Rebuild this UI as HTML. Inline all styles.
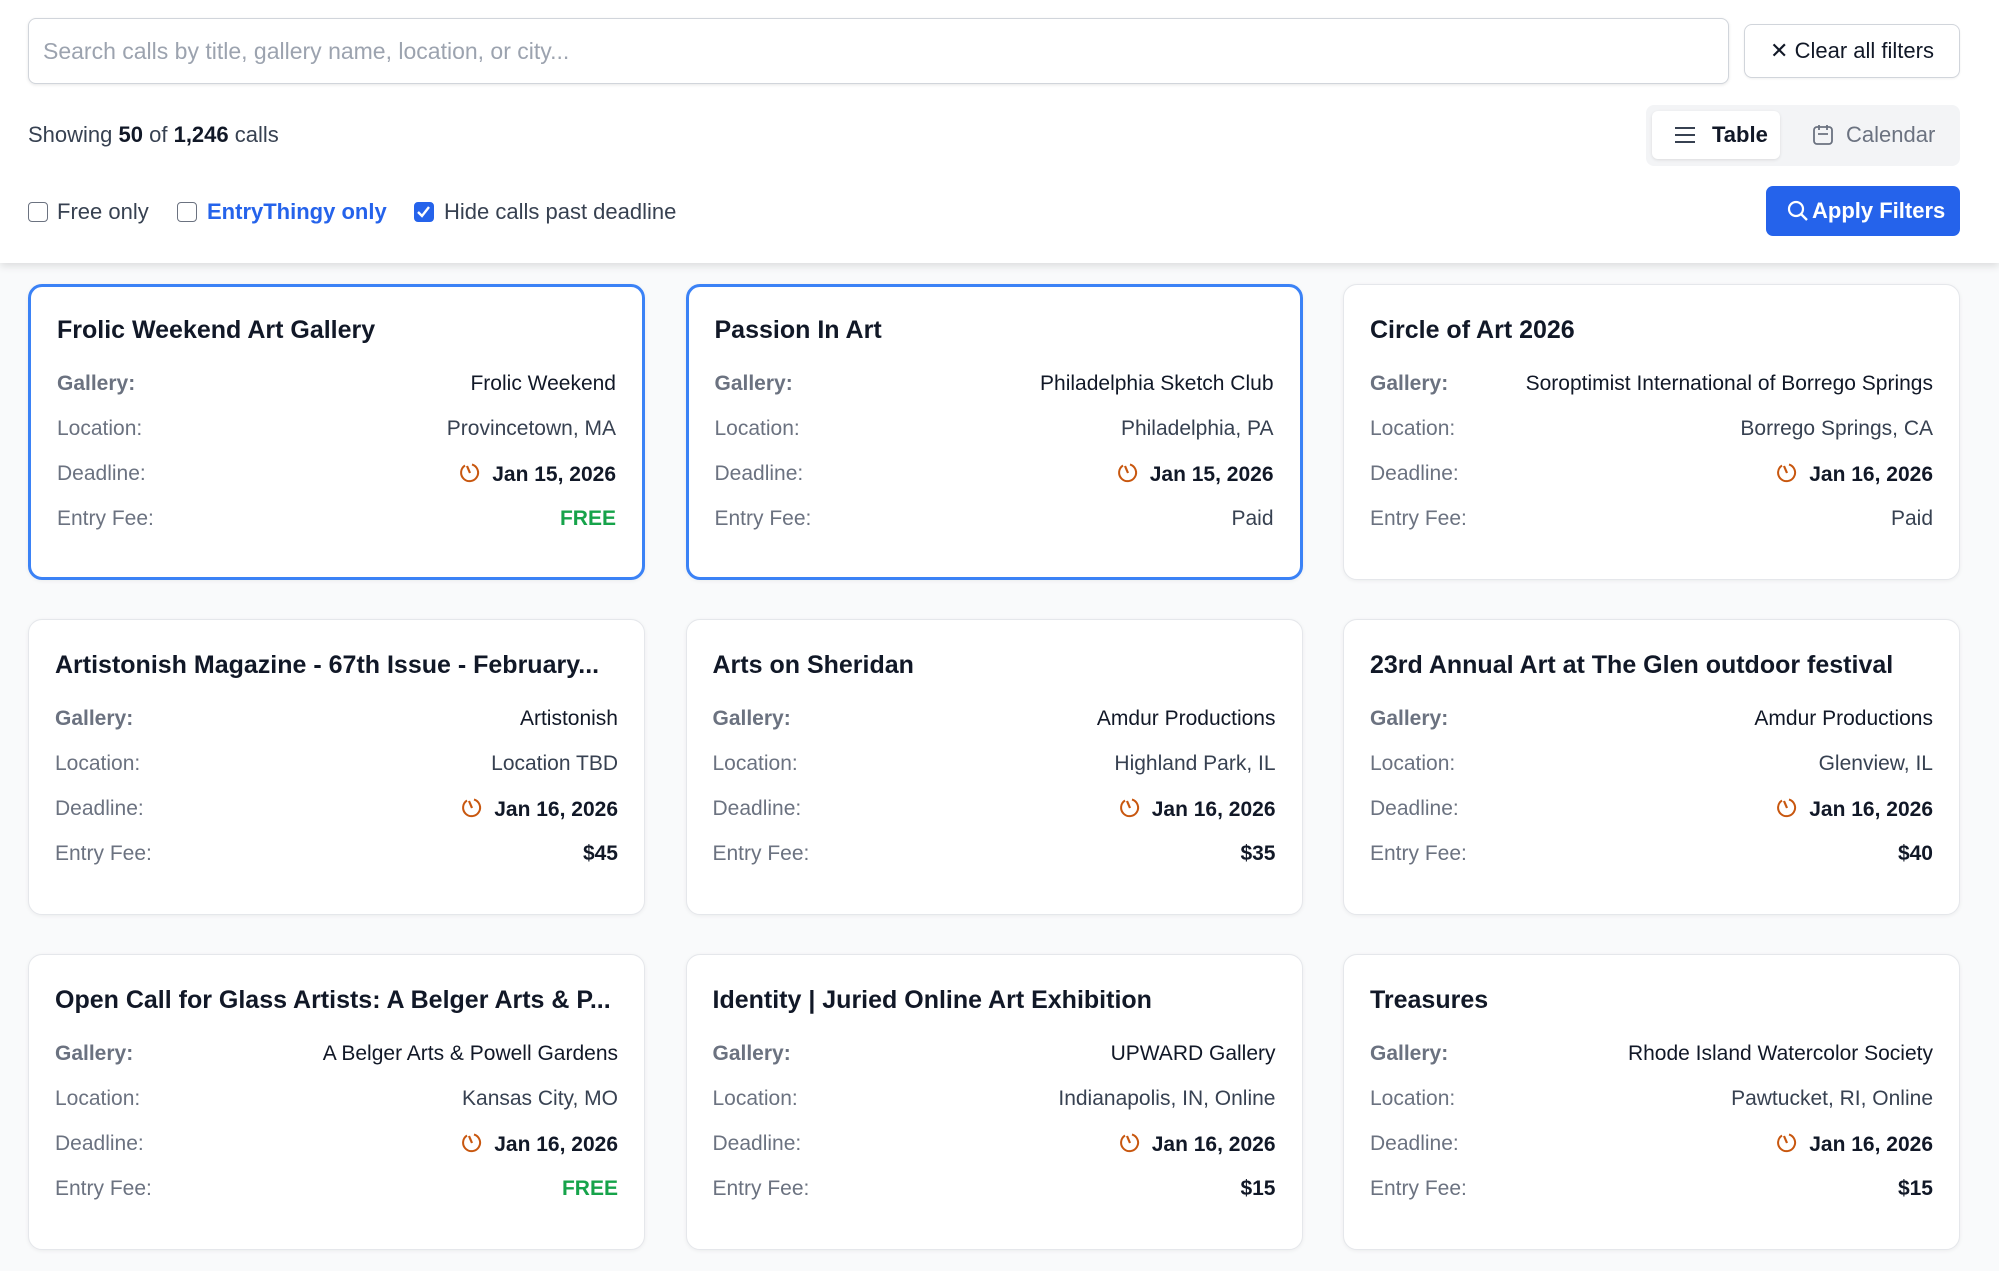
<!DOCTYPE html>
<html><head><meta charset="utf-8"><style>
*{box-sizing:border-box;margin:0;padding:0}
body{width:1999px;height:1271px;background:#f9fafb;font-family:"Liberation Sans",sans-serif;color:#111827;position:relative;overflow:hidden}
.header{position:absolute;left:0;top:0;width:1999px;height:263px;background:#fff;box-shadow:0 3px 8px rgba(0,0,0,0.12)}
.search{position:absolute;left:28px;top:18px;width:1701px;height:66px;border:1px solid #d1d5db;border-radius:8px;background:#fff;box-shadow:0 1px 3px rgba(0,0,0,0.1);font-size:23px;color:#9ca3af;padding-left:14px;line-height:64px}
.clear{position:absolute;left:1744px;top:24px;width:216px;height:54px;border:1px solid #d1d5db;border-radius:8px;background:#fff;font-size:22px;line-height:52px;text-align:center;color:#111827;box-shadow:0 1px 2px rgba(0,0,0,0.06)}
.showing{position:absolute;left:28px;top:122px;font-size:22px;color:#374151}
.showing b{color:#111827}
.toggle{position:absolute;left:1646px;top:105px;width:314px;height:61px;background:#f3f4f6;border-radius:8px}
.tbtn{position:absolute;left:6px;top:6px;width:128px;height:48px;background:#fff;border-radius:6px;box-shadow:0 1px 3px rgba(0,0,0,0.1);font-size:22px;font-weight:bold;line-height:48px;padding-left:60px}
.cbtn{position:absolute;left:160px;top:6px;height:48px;font-size:22px;color:#6b7280;line-height:48px;padding-left:40px}
.chk{position:absolute;top:202px;width:20px;height:20px;border:1.5px solid #6b7280;border-radius:4px;background:#fff}
.chk.on{background:#2563eb;border-color:#2563eb}
.clabel{position:absolute;top:199px;font-size:22px;color:#374151}
.apply{position:absolute;left:1766px;top:186px;width:194px;height:50px;background:#2563eb;border-radius:7px;color:#fff;font-size:22px;font-weight:bold;line-height:50px;padding-left:46px}
.card{position:absolute;width:617px;height:296px;background:#fff;border:1px solid #e5e7eb;border-radius:14px;box-shadow:0 1px 4px rgba(0,0,0,0.06)}
.card.sel{border:3px solid #3b82f6}
.title{position:absolute;left:26px;top:31px;font-size:25px;font-weight:bold;color:#111827;white-space:nowrap}
.row{position:absolute;left:26px;right:26px;height:28px;font-size:21px;display:flex;justify-content:space-between;align-items:center}
.lab{color:#6b7280}
.lab.b{font-weight:bold}
.val{color:#374151;white-space:nowrap}
.val.b{font-weight:bold;color:#111827}
.free{color:#16a34a;font-weight:bold}
.clock{display:inline-block;vertical-align:-4px;margin-right:10px}
</style></head><body>
<div class="header">
  <div class="search">Search calls by title, gallery name, location, or city...</div>
  <div class="clear">✕ Clear all filters</div>
  <div class="showing">Showing <b>50</b> of <b>1,246</b> calls</div>
  <div class="toggle">
    <div class="tbtn"><svg style="position:absolute;left:22px;top:14px" width="22" height="20"><path d="M1 3h20M1 10h20M1 17h20" stroke="#374151" stroke-width="2"/></svg>Table</div>
    <div class="cbtn"><svg style="position:absolute;left:6px;top:13px" width="22" height="22"><rect x="2" y="3" width="18" height="17" rx="3" fill="none" stroke="#6b7280" stroke-width="1.8"/><path d="M7 1v5M15 1v5M6 10h10" stroke="#6b7280" stroke-width="1.8"/></svg>Calendar</div>
  </div>
  <div class="chk" style="left:28px"></div>
  <div class="clabel" style="left:57px">Free only</div>
  <div class="chk" style="left:177px"></div>
  <div class="clabel" style="left:207px;color:#2563eb;font-weight:bold">EntryThingy only</div>
  <div class="chk on" style="left:414px"><svg width="17" height="17" style="position:absolute;left:0;top:0"><path d="M3 9l4 4 7-9" stroke="#fff" stroke-width="2.4" fill="none"/></svg></div>
  <div class="clabel" style="left:444px">Hide calls past deadline</div>
  <div class="apply"><svg style="position:absolute;left:20px;top:13px" width="24" height="24"><circle cx="10" cy="10" r="7" fill="none" stroke="#fff" stroke-width="2.2"/><path d="M15 15l6 6" stroke="#fff" stroke-width="2.4"/></svg>Apply Filters</div>
</div>
<div id="cards"></div>
<script>
const titles=["Frolic Weekend Art Gallery","Passion In Art","Circle of Art 2026","Artistonish Magazine - 67th Issue - February...","Arts on Sheridan","23rd Annual Art at The Glen outdoor festival","Open Call for Glass Artists: A Belger Arts & P...","Identity | Juried Online Art Exhibition","Treasures"];
const galleries=["Frolic Weekend","Philadelphia Sketch Club","Soroptimist International of Borrego Springs","Artistonish","Amdur Productions","Amdur Productions","A Belger Arts & Powell Gardens","UPWARD Gallery","Rhode Island Watercolor Society"];
const locations=["Provincetown, MA","Philadelphia, PA","Borrego Springs, CA","Location TBD","Highland Park, IL","Glenview, IL","Kansas City, MO","Indianapolis, IN, Online","Pawtucket, RI, Online"];
const deadlines=["Jan 15, 2026","Jan 15, 2026","Jan 16, 2026","Jan 16, 2026","Jan 16, 2026","Jan 16, 2026","Jan 16, 2026","Jan 16, 2026","Jan 16, 2026"];
const fees=["FREE","Paid","Paid","$45","$35","$40","FREE","$15","$15"];
const selected=[true,true,false,false,false,false,false,false,false];
const clock='<svg class="clock" width="24" height="24" viewBox="0 0 24 24"><path d="M7 4.5A8.5 8.5 0 1 0 14 3.5" fill="none" stroke="#c8570f" stroke-width="2"/><path d="M9 5l3 7" stroke="#c8570f" stroke-width="2.2"/></svg>';
const root=document.getElementById('cards');
titles.forEach((t,i)=>{
  const c=document.createElement('div');
  c.className='card'+(selected[i]?' sel':'');
  
  
  const col=i%3,row=Math.floor(i/3);
  c.style.left=(28+col*657.5)+'px';
  c.style.top=(284+row*335)+'px';
  const off=selected[i]?-2:0;
  const fee=fees[i];
  const feeHtml=fee==='FREE'?'<span class="free">FREE</span>':(fee==='Paid'?'<span class="val">Paid</span>':'<span class="val b">'+fee+'</span>');
  c.innerHTML='<div class="title" style="margin-top:'+off+'px">'+t+'</div>'+
   '<div class="row" style="top:'+(85+off)+'px"><span class="lab b">Gallery:</span><span class="val" style="color:#111827">'+galleries[i]+'</span></div>'+
   '<div class="row" style="top:'+(130+off)+'px"><span class="lab">Location:</span><span class="val">'+locations[i]+'</span></div>'+
   '<div class="row" style="top:'+(175+off)+'px"><span class="lab">Deadline:</span><span class="val b">'+clock+deadlines[i]+'</span></div>'+
   '<div class="row" style="top:'+(220+off)+'px"><span class="lab">Entry Fee:</span>'+feeHtml+'</div>';
  root.appendChild(c);
});
</script>
</body></html>
